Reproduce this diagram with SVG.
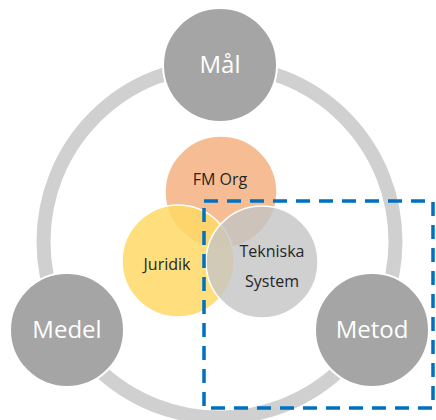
<svg xmlns="http://www.w3.org/2000/svg" width="436" height="420" viewBox="0 0 436 420">
<style>
.big{fill:#A5A5A5;stroke:#fff;stroke-width:2}
.bt{font-family:"Open Sans","Liberation Sans",sans-serif;font-size:24px;fill:#fff;text-anchor:middle}
.it{font-family:"Open Sans","Liberation Sans",sans-serif;font-size:16px;fill:#262626;text-anchor:middle}
.inner{stroke:#fff;stroke-width:1.5}
</style>
<rect width="436" height="420" fill="#fff"/>
<g id="connectors">
<circle cx="219.5" cy="241.5" r="176" fill="none" stroke="#D0D0D0" stroke-width="14"/>
</g>
<g id="mal"><circle class="big" cx="220" cy="65" r="57"/><text class="bt" x="220" y="73">Mål</text></g>
<g id="medel"><circle class="big" cx="67" cy="330" r="57"/><text class="bt" x="67" y="338">Medel</text></g>
<g id="metod"><circle class="big" cx="372" cy="330" r="57"/><text class="bt" x="372" y="338">Metod</text></g>
<g id="fmorg"><circle class="inner" cx="221" cy="192" r="56" fill="#F4B183" fill-opacity="0.85"/></g>
<g id="juridik"><circle class="inner" cx="178" cy="261" r="56" fill="#FFD966" fill-opacity="0.85"/></g>
<g id="tekniska"><circle class="inner" cx="262" cy="262" r="56" fill="#C4C4C4" fill-opacity="0.8"/></g>
<g id="labels">
<text class="it" x="220" y="185">FM Org</text>
<text class="it" x="167" y="270">Juridik</text>
<text class="it" x="272" y="257">Tekniska</text>
<text class="it" x="272" y="287">System</text>
</g>
<g id="frame"><rect x="204" y="201" width="229" height="207" fill="none" stroke="#0070C0" stroke-width="3.5" stroke-dasharray="14 9"/></g>
</svg>
